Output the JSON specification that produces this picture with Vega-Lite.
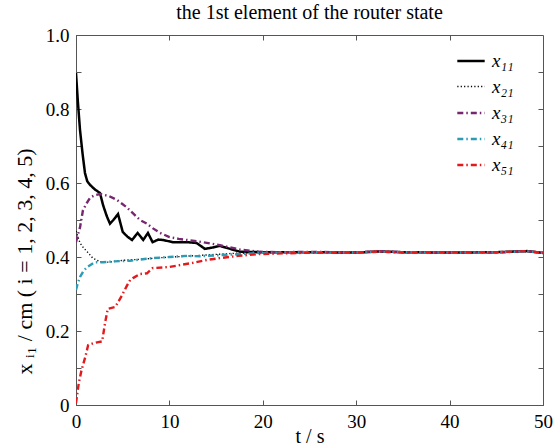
{
  "$schema": "https://vega.github.io/schema/vega-lite/v6.json",
  "autosize": "none",
  "width": 467,
  "height": 370,
  "padding": {"left": 76, "top": 35, "right": 12, "bottom": 40},
  "background": "white",
  "title": {"text": "the 1st element of the router state", "font": "Liberation Serif", "fontSize": 20, "fontWeight": "normal", "color": "black", "offset": 3},
  "config": {
    "view": {"stroke": "#555", "strokeWidth": 1},
    "font": "Liberation Serif",
    "axis": {"labelFont": "Liberation Serif", "titleFont": "Liberation Serif", "labelColor": "black", "titleColor": "black", "domainColor": "#555", "tickColor": "#555", "grid": false, "labelFontSize": 19, "titleFontSize": 20, "titleFontWeight": "normal", "tickSize": -5},
    "legend": {"orient": "none", "legendX": 380, "legendY": 11, "symbolType": "stroke", "symbolSize": 750, "labelFont": "Liberation Serif", "labelFontSize": 19, "labelFontStyle": "italic", "labelColor": "black", "rowPadding": 1, "labelOffset": 6, "title": null}
  },
  "data": {"values": [
    {"t":0,"s":"x₁₁","v":0.897},{"t":0.2,"s":"x₁₁","v":0.82},{"t":0.43,"s":"x₁₁","v":0.743},{"t":0.7,"s":"x₁₁","v":0.68},{"t":0.96,"s":"x₁₁","v":0.627},{"t":1.2,"s":"x₁₁","v":0.605},{"t":1.5,"s":"x₁₁","v":0.595},{"t":2.0,"s":"x₁₁","v":0.583},{"t":2.57,"s":"x₁₁","v":0.573},{"t":2.9,"s":"x₁₁","v":0.54},{"t":3.3,"s":"x₁₁","v":0.51},{"t":3.64,"s":"x₁₁","v":0.49},{"t":4.0,"s":"x₁₁","v":0.5},{"t":4.5,"s":"x₁₁","v":0.516},{"t":5.0,"s":"x₁₁","v":0.468},{"t":5.5,"s":"x₁₁","v":0.455},{"t":6.0,"s":"x₁₁","v":0.446},{"t":6.6,"s":"x₁₁","v":0.465},{"t":7.2,"s":"x₁₁","v":0.446},{"t":7.7,"s":"x₁₁","v":0.465},{"t":8.2,"s":"x₁₁","v":0.44},{"t":8.8,"s":"x₁₁","v":0.447},{"t":9.3,"s":"x₁₁","v":0.446},{"t":10.4,"s":"x₁₁","v":0.44},{"t":11.9,"s":"x₁₁","v":0.44},{"t":12.9,"s":"x₁₁","v":0.438},{"t":13.8,"s":"x₁₁","v":0.422},{"t":14.5,"s":"x₁₁","v":0.425},{"t":15.4,"s":"x₁₁","v":0.43},{"t":16.5,"s":"x₁₁","v":0.422},{"t":17.6,"s":"x₁₁","v":0.414},{"t":20,"s":"x₁₁","v":0.413},{"t":25,"s":"x₁₁","v":0.413},{"t":30,"s":"x₁₁","v":0.412},{"t":32.5,"s":"x₁₁","v":0.415},{"t":35,"s":"x₁₁","v":0.413},{"t":40,"s":"x₁₁","v":0.412},{"t":45,"s":"x₁₁","v":0.413},{"t":48.3,"s":"x₁₁","v":0.416},{"t":50,"s":"x₁₁","v":0.411},

    {"t":0,"s":"x₂₁","v":0.47},{"t":0.2,"s":"x₂₁","v":0.455},{"t":0.43,"s":"x₂₁","v":0.438},{"t":0.8,"s":"x₂₁","v":0.425},{"t":1.2,"s":"x₂₁","v":0.414},{"t":1.8,"s":"x₂₁","v":0.397},{"t":2.6,"s":"x₂₁","v":0.387},{"t":3.5,"s":"x₂₁","v":0.386},{"t":5,"s":"x₂₁","v":0.391},{"t":7,"s":"x₂₁","v":0.394},{"t":9,"s":"x₂₁","v":0.398},{"t":11,"s":"x₂₁","v":0.401},{"t":13,"s":"x₂₁","v":0.404},{"t":15,"s":"x₂₁","v":0.407},{"t":17,"s":"x₂₁","v":0.41},{"t":20,"s":"x₂₁","v":0.412},{"t":25,"s":"x₂₁","v":0.413},{"t":30,"s":"x₂₁","v":0.413},{"t":32.5,"s":"x₂₁","v":0.415},{"t":35,"s":"x₂₁","v":0.413},{"t":40,"s":"x₂₁","v":0.413},{"t":45,"s":"x₂₁","v":0.413},{"t":48.3,"s":"x₂₁","v":0.415},{"t":50,"s":"x₂₁","v":0.412},

    {"t":0,"s":"x₃₁","v":0.44},{"t":0.2,"s":"x₃₁","v":0.46},{"t":0.43,"s":"x₃₁","v":0.48},{"t":0.75,"s":"x₃₁","v":0.527},{"t":1.2,"s":"x₃₁","v":0.548},{"t":1.5,"s":"x₃₁","v":0.56},{"t":2.0,"s":"x₃₁","v":0.567},{"t":2.6,"s":"x₃₁","v":0.57},{"t":3.5,"s":"x₃₁","v":0.565},{"t":4.4,"s":"x₃₁","v":0.554},{"t":5.4,"s":"x₃₁","v":0.535},{"t":6.85,"s":"x₃₁","v":0.5},{"t":7.6,"s":"x₃₁","v":0.49},{"t":8.2,"s":"x₃₁","v":0.478},{"t":9,"s":"x₃₁","v":0.465},{"t":10,"s":"x₃₁","v":0.454},{"t":11,"s":"x₃₁","v":0.449},{"t":11.9,"s":"x₃₁","v":0.446},{"t":13.6,"s":"x₃₁","v":0.44},{"t":15.4,"s":"x₃₁","v":0.432},{"t":17.6,"s":"x₃₁","v":0.42},{"t":19.7,"s":"x₃₁","v":0.414},{"t":22,"s":"x₃₁","v":0.413},{"t":25,"s":"x₃₁","v":0.414},{"t":30,"s":"x₃₁","v":0.412},{"t":32.5,"s":"x₃₁","v":0.416},{"t":35,"s":"x₃₁","v":0.413},{"t":40,"s":"x₃₁","v":0.413},{"t":45,"s":"x₃₁","v":0.412},{"t":48.3,"s":"x₃₁","v":0.416},{"t":50,"s":"x₃₁","v":0.411},

    {"t":0,"s":"x₄₁","v":0.311},{"t":0.2,"s":"x₄₁","v":0.33},{"t":0.43,"s":"x₄₁","v":0.346},{"t":0.8,"s":"x₄₁","v":0.362},{"t":1.2,"s":"x₄₁","v":0.373},{"t":2,"s":"x₄₁","v":0.386},{"t":2.9,"s":"x₄₁","v":0.386},{"t":4,"s":"x₄₁","v":0.388},{"t":5.8,"s":"x₄₁","v":0.39},{"t":8.2,"s":"x₄₁","v":0.397},{"t":10,"s":"x₄₁","v":0.4},{"t":11.9,"s":"x₄₁","v":0.403},{"t":13.3,"s":"x₄₁","v":0.402},{"t":15.4,"s":"x₄₁","v":0.405},{"t":17.6,"s":"x₄₁","v":0.408},{"t":19.7,"s":"x₄₁","v":0.411},{"t":22,"s":"x₄₁","v":0.412},{"t":25,"s":"x₄₁","v":0.413},{"t":30,"s":"x₄₁","v":0.412},{"t":32.5,"s":"x₄₁","v":0.414},{"t":35,"s":"x₄₁","v":0.413},{"t":40,"s":"x₄₁","v":0.412},{"t":45,"s":"x₄₁","v":0.413},{"t":48.3,"s":"x₄₁","v":0.415},{"t":50,"s":"x₄₁","v":0.411},

    {"t":0,"s":"x₅₁","v":0.005},{"t":0.3,"s":"x₅₁","v":0.06},{"t":0.6,"s":"x₅₁","v":0.095},{"t":1.0,"s":"x₅₁","v":0.13},{"t":1.3,"s":"x₅₁","v":0.162},{"t":2.0,"s":"x₅₁","v":0.168},{"t":2.8,"s":"x₅₁","v":0.172},{"t":3.1,"s":"x₅₁","v":0.22},{"t":3.4,"s":"x₅₁","v":0.26},{"t":4.2,"s":"x₅₁","v":0.265},{"t":4.9,"s":"x₅₁","v":0.295},{"t":5.4,"s":"x₅₁","v":0.32},{"t":5.8,"s":"x₅₁","v":0.338},{"t":6.1,"s":"x₅₁","v":0.343},{"t":6.85,"s":"x₅₁","v":0.354},{"t":7.6,"s":"x₅₁","v":0.356},{"t":8.2,"s":"x₅₁","v":0.37},{"t":10,"s":"x₅₁","v":0.373},{"t":11.1,"s":"x₅₁","v":0.378},{"t":12.5,"s":"x₅₁","v":0.384},{"t":14,"s":"x₅₁","v":0.392},{"t":15.4,"s":"x₅₁","v":0.397},{"t":17.4,"s":"x₅₁","v":0.403},{"t":19.7,"s":"x₅₁","v":0.408},{"t":24,"s":"x₅₁","v":0.411},{"t":27,"s":"x₅₁","v":0.412},{"t":30,"s":"x₅₁","v":0.412},{"t":32.5,"s":"x₅₁","v":0.415},{"t":35,"s":"x₅₁","v":0.412},{"t":40,"s":"x₅₁","v":0.413},{"t":45,"s":"x₅₁","v":0.413},{"t":48.3,"s":"x₅₁","v":0.416},{"t":50,"s":"x₅₁","v":0.411}
  ]},
  "layer": [
    {
      "mark": {"type": "line", "clip": true},
      "encoding": {
        "x": {"field": "t", "type": "quantitative", "scale": {"domain": [0, 50], "nice": false},
              "axis": {"orient": "bottom", "values": [0,10,20,30,40,50], "title": "t / s", "titleY": 37, "titleBaseline": "alphabetic", "labelPadding": 12, "labelFlush": false}},
        "y": {"field": "v", "type": "quantitative", "scale": {"domain": [0, 1], "nice": false},
              "axis": {"orient": "left", "values": [0,0.1,0.2,0.3,0.4,0.5,0.6,0.7,0.8,0.9,1.0], "labelExpr": "round(datum.value*10) % 2 == 1 ? '' : (datum.value == 0 ? '0' : format(datum.value, '.1f'))", "title": "x ᵢ₁ / cm ( i = 1, 2, 3, 4, 5)", "titleFontSize": 22, "titlePadding": 9, "titleY": 226, "labelPadding": 12, "labelFlush": false}},
        "color": {"field": "s", "type": "nominal", "title": null,
                  "scale": {"domain": ["x₁₁","x₂₁","x₃₁","x₄₁","x₅₁"], "range": ["#000000","#000000","#76276f","#2c9cb5","#e3191c"]}},
        "strokeDash": {"field": "s", "type": "nominal", "title": null,
                  "scale": {"domain": ["x₁₁","x₂₁","x₃₁","x₄₁","x₅₁"], "range": [[1,0],[1.2,2.2],[6,3,1.5,3],[6,3,1.5,3],[6,3,1.5,3]]}},
        "strokeWidth": {"field": "s", "type": "nominal", "title": null,
                  "scale": {"type": "ordinal", "domain": ["x₁₁","x₂₁","x₃₁","x₄₁","x₅₁"], "range": [2.5,1.4,2.4,2.4,2.4]}},
        "order": {"field": "t", "type": "quantitative"}
      }
    },
    {
      "mark": {"type": "line", "opacity": 0},
      "encoding": {
        "x": {"field": "t", "type": "quantitative", "scale": {"domain": [0, 50], "nice": false}, "axis": {"orient": "top", "values": [10,20,30,40], "labels": false, "title": null, "domain": false}},
        "y": {"field": "v", "type": "quantitative", "scale": {"domain": [0, 1], "nice": false}, "axis": {"orient": "right", "values": [0.1,0.2,0.3,0.4,0.5,0.6,0.7,0.8,0.9], "labels": false, "title": null, "domain": false}}
      }
    }
  ],
  "resolve": {"axis": {"x": "independent", "y": "independent"}}
}
